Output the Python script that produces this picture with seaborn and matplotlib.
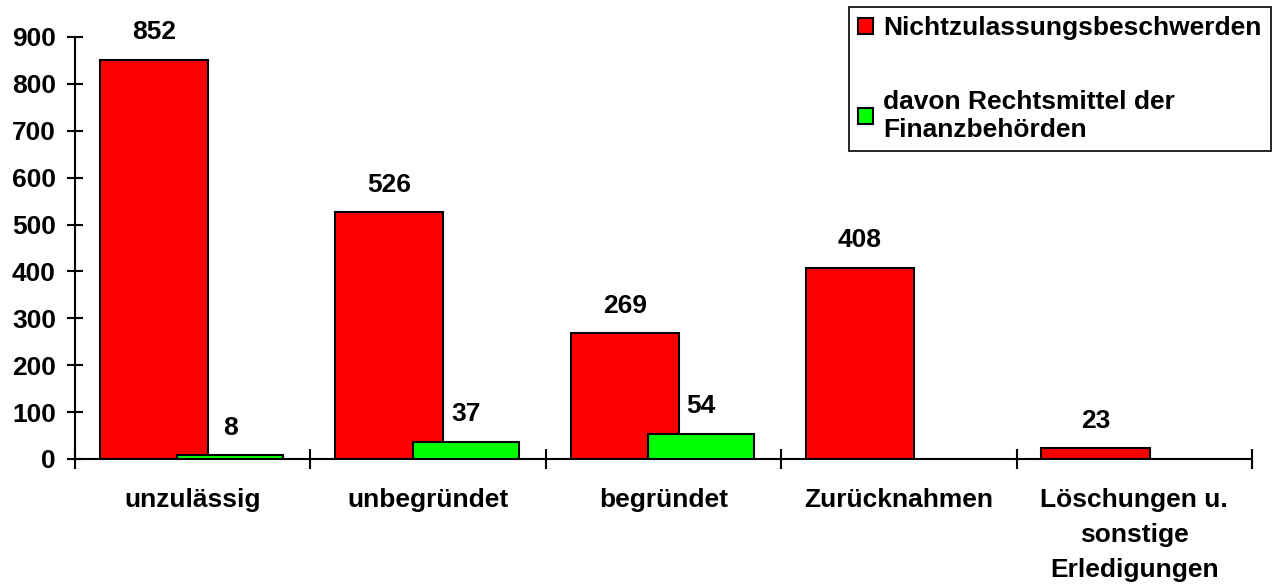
import matplotlib

matplotlib.use("Agg")
import matplotlib.pyplot as plt
import numpy as np
import pandas as pd
import seaborn as sns

# data
CATEGORIES = [
    "unzulässig",
    "unbegründet",
    "begründet",
    "Zurücknahmen",
    "Löschungen u.\nsonstige\nErledigungen",
]
NZB_VALUES = [852, 526, 269, 408, 23]
RM_VALUES = [8, 37, 54, np.nan, np.nan]
NZB_LABEL = "Nichtzulassungsbeschwerden"
RM_LABEL = "davon Rechtsmittel der\nFinanzbehörden"
Y_TICKS = list(range(0, 1000, 100))

RED = "#ff0000"
GREEN = "#00ff00"
FS = 19

sns.set_theme(style="white")
plt.rcParams["font.family"] = ["Liberation Sans", "DejaVu Sans"]
plt.rcParams["font.weight"] = "bold"
plt.rcParams["font.size"] = FS
plt.rcParams["text.color"] = "black"
plt.rcParams["xtick.color"] = "black"
plt.rcParams["ytick.color"] = "black"
plt.rcParams["xtick.bottom"] = True
plt.rcParams["ytick.left"] = True

W, H = 1279, 585
fig = plt.figure(figsize=(W / 100, H / 100), dpi=100)
ax = fig.add_axes([75 / W, 1 - 459 / H, (1252 - 75) / W, (459 - 37) / H])

idx = np.arange(len(CATEGORIES))
df_nzb = pd.DataFrame({"pos": idx - 0.165, "value": NZB_VALUES})
df_rm = pd.DataFrame({"pos": idx + 0.16, "value": RM_VALUES}).dropna()

sns.barplot(
    data=df_nzb, x="pos", y="value", native_scale=True, width=0.46,
    color=RED, saturation=1, edgecolor="black", linewidth=1.5,
    errorbar=None, label=NZB_LABEL, ax=ax, zorder=2,
)
sns.barplot(
    data=df_rm, x="pos", y="value", native_scale=True, width=0.45,
    color=GREEN, saturation=1, edgecolor="black", linewidth=1.5,
    errorbar=None, label=RM_LABEL, ax=ax, zorder=3,
)

for container in ax.containers:
    ax.bar_label(container, fmt="%d", padding=11, fontsize=FS, fontweight="bold", color="black")

ax.set_xlim(-0.5, len(CATEGORIES) - 0.5)
ax.set_ylim(0, 900)
ax.set_yticks(Y_TICKS)
ax.set_xticks(np.arange(len(CATEGORIES) + 1) - 0.5)
ax.set_xticklabels([])
ax.set_xticks(idx, CATEGORIES, minor=True, linespacing=1.58, fontweight="bold")
ax.set_xlabel("")
ax.set_ylabel("")

ax.tick_params(axis="x", which="major", bottom=True, direction="inout", length=14, width=1.5, color="black")
ax.tick_params(axis="x", which="minor", bottom=True, length=0, pad=21, labelsize=FS, labelcolor="black")
ax.tick_params(axis="y", left=True, direction="inout", length=11.5, width=1.5, color="black",
               labelsize=FS, labelcolor="black", pad=8)

sns.despine(ax=ax)
for side in ["left", "bottom"]:
    ax.spines[side].set_color("black")
    ax.spines[side].set_linewidth(1.5)

handles, labels = ax.get_legend_handles_labels()
if ax.get_legend() is not None:
    ax.get_legend().remove()
leg = fig.legend(
    handles, labels, loc="upper left", bbox_to_anchor=(849 / W, 1 - 7 / H),
    borderaxespad=0, borderpad=0.35, handlelength=0.55, handleheight=0.55,
    handletextpad=0.4, labelspacing=1.88, fancybox=False, framealpha=1,
    edgecolor="black", prop={"size": FS, "weight": "bold"},
)
leg.get_frame().set_linewidth(1.2)

fig.savefig("out.png", dpi=100)
